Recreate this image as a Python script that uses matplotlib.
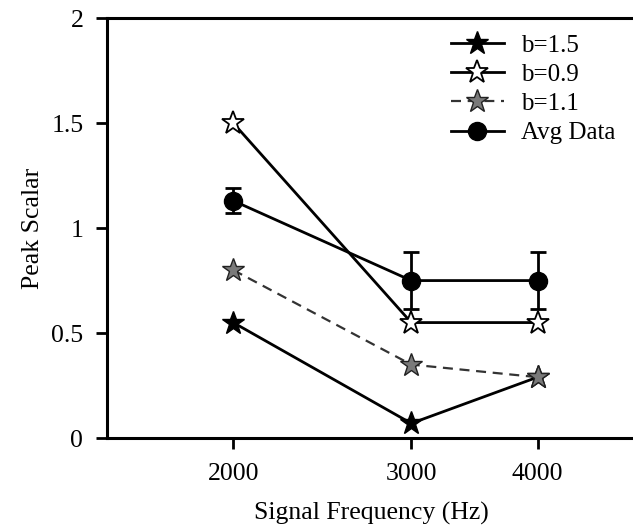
import matplotlib
matplotlib.use("Agg")
import matplotlib.pyplot as plt
from matplotlib.container import ErrorbarContainer

freqs = [2000, 3000, 4000]
b15 = [0.55, 0.07, 0.29]
b09 = [1.50, 0.55, 0.55]
b11 = [0.80, 0.35, 0.29]
avg = [1.13, 0.75, 0.75]
avg_err = [0.06, 0.135, 0.135]
xticks = [2000, 3000, 4000]
yticks = [0, 0.5, 1, 1.5, 2]
yticklabels = ["0", "0.5", "1", "1.5", "2"]

plt.rcParams['font.family'] = ['Liberation Serif', 'DejaVu Serif']
fig = plt.figure(figsize=(6.33, 5.31), dpi=100)
ax = fig.add_axes([0.169, 0.175, 0.835, 0.791])

lw = 2.0
ax.plot(freqs, b15, '-', color='black', lw=lw, marker='*', ms=17,
        mfc='black', mec='black', label='b=1.5', zorder=3)
ax.plot(freqs, b09, '-', color='black', lw=lw, marker='*', ms=17,
        mfc='white', mec='black', mew=1.3, label='b=0.9', zorder=3)
ax.plot(freqs, b11, '--', color='#333333', lw=1.6, dashes=(4.5, 3), marker='*', ms=17,
        mfc='#7a7a7a', mec='#222222', mew=1.0, label='b=1.1', zorder=3)
ax.errorbar(freqs, avg, yerr=avg_err, fmt='-o', color='black', lw=lw, ms=13,
            elinewidth=2, capsize=5.5, capthick=2, label='Avg Data', zorder=4)

ax.set_xscale('log')
ax.set_xlim(1500, 5000)
ax.set_ylim(0, 2)
ax.set_xticks(xticks)
ax.set_xticklabels([str(x) for x in xticks])
ax.xaxis.set_minor_locator(matplotlib.ticker.NullLocator())
ax.set_yticks(yticks)
ax.set_yticklabels(yticklabels)

for s in ['left', 'bottom', 'top']:
    ax.spines[s].set_linewidth(2.2)
ax.spines['right'].set_visible(False)
ax.tick_params(direction='out', length=8, width=2, labelsize=18.5)
ax.tick_params(axis='x', pad=10)
ax.tick_params(axis='y', pad=9)

ax.set_xlabel('Signal Frequency (Hz)', fontsize=18.5, labelpad=12)
ax.set_ylabel('Peak Scalar', fontsize=18.5, labelpad=5)

handles, labels = ax.get_legend_handles_labels()
h2 = [h.lines[0] if isinstance(h, ErrorbarContainer) else h for h in handles]
ax.legend(h2, labels, loc='upper left', bbox_to_anchor=(0.651, 0.962), frameon=False,
          fontsize=18, handlelength=2.1, labelspacing=0.27, handletextpad=0.68,
          borderaxespad=0, borderpad=0)

fig.savefig('out.png', dpi=100)
